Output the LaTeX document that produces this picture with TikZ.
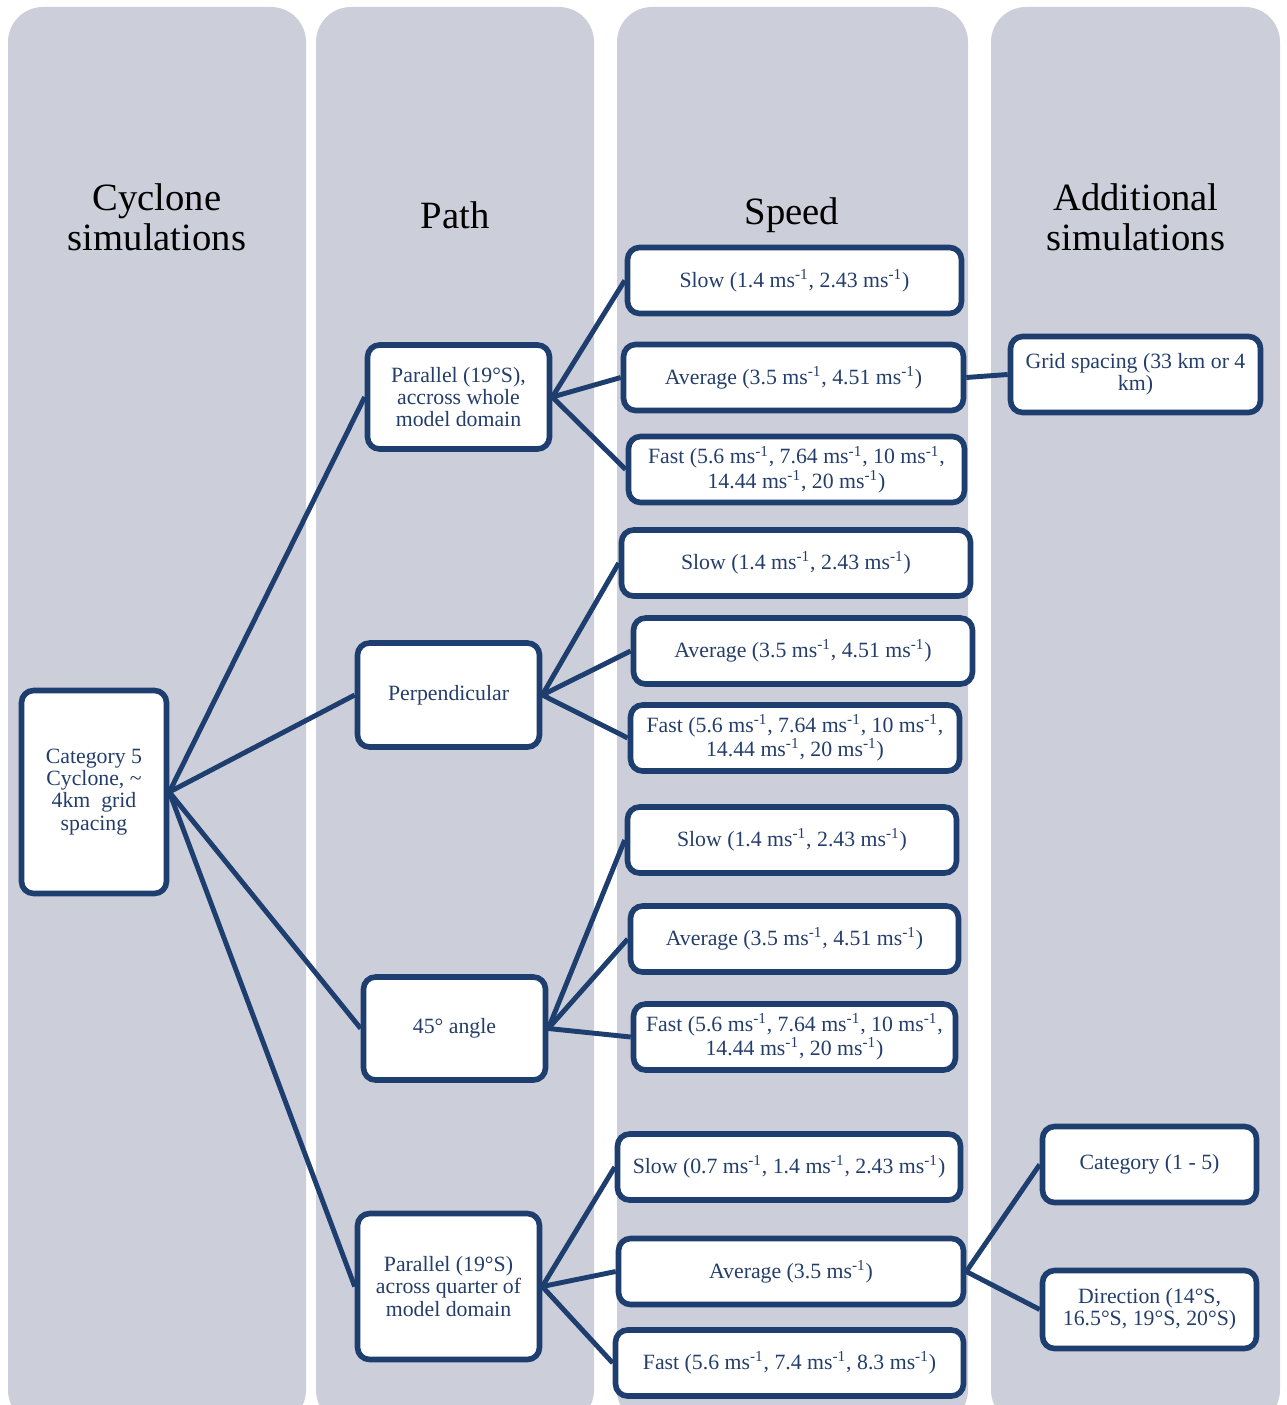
\documentclass[tikz,border=0pt]{standalone}
\usepackage{fontspec}
\setmainfont{Liberation Serif}
\usepackage{tikz}
\usetikzlibrary{positioning}
\definecolor{ColumnGray}{RGB}{204,207,217}
\definecolor{BoxNavy}{RGB}{29,62,110}
\definecolor{TextNavy}{RGB}{36,62,108}
\newcommand{\mspow}{ms\textsuperscript{-1}}

\begin{document}
\begin{tikzpicture}[
    x=0.02cm,
    y=-0.02cm,
    column/.style={
        fill=ColumnGray,
        draw=none,
        rounded corners=0.7cm
    },
    header/.style={
        align=center,
        text=black,
        font=\fontsize{22}{23}\selectfont
    },
    box/.style={
        draw=BoxNavy,
        line width=3.2pt,
        fill=white,
        rounded corners=0.24cm,
        align=center,
        inner sep=0pt,
        text=TextNavy,
        font=\fontsize{12.4}{12.6}\selectfont
    },
    pathbox/.style={
        box,
        minimum width=3.64cm,
        minimum height=2.08cm
    },
    speedbox/.style={
        box,
        minimum height=1.32cm
    },
    link/.style={
        draw=BoxNavy,
        line width=2.8pt
    }
]
\useasboundingbox (0,0) rectangle (1286,1405);
\clip (0,0) rectangle (1286,1405);

% =========================
% Background columns
% =========================
\path[column] (8,7) rectangle (306,1425);
\path[column] (316,7) rectangle (594,1425);
\path[column] (617,7) rectangle (968,1425);
\path[column] (991,7) rectangle (1280,1425);

\node[header] (hcyc)  at (157,217) {Cyclone\\simulations};
\node[header] (hpath) at (455,215) {Path};
\node[header] (hspd)  at (792,215) {Speed};
\node[header] (hadd)  at (1136,217) {Additional\\simulations};

% =========================
% Root and paths
% =========================
\node[box, minimum width=2.9cm, minimum height=4.06cm] (cat5) at (94,792)
    {Category 5\\Cyclone, \textasciitilde\\4km\ \ grid\\spacing};

\node[pathbox] (par1)  at (458.5,397)  {Parallel (19°S),\\accross whole\\model domain};
\node[pathbox] (perp)  at (448.5,695)  {Perpendicular};
\node[pathbox, minimum height=2.06cm] (ang45) at (454.5,1028.5) {45° angle};
\node[pathbox, minimum height=2.92cm] (par4)  at (448.5,1286.5) {Parallel (19°S)\\across quarter of\\model domain};

\draw[link] (cat5.east) -- (par1.west);
\draw[link] (cat5.east) -- (perp.west);
\draw[link] (cat5.east) -- (ang45.west);
\draw[link] (cat5.east) -- (par4.west);

% =========================
% Speeds
% =========================
\node[speedbox, minimum width=6.68cm] (s1slow) at (794.5,280.5) {Slow (1.4 \mspow, 2.43 \mspow)};
\node[speedbox, minimum width=6.80cm] (s1avg)  at (793.5,377.5) {Average (3.5 \mspow, 4.51 \mspow)};
\node[speedbox, minimum width=6.72cm] (s1fast) at (796.5,469.5) {Fast (5.6 \mspow, 7.64 \mspow, 10 \mspow,\\14.44 \mspow, 20 \mspow)};

\node[speedbox, minimum width=6.98cm] (s2slow) at (796,563) {Slow (1.4 \mspow, 2.43 \mspow)};
\node[speedbox, minimum width=6.78cm] (s2avg)  at (803,651) {Average (3.5 \mspow, 4.51 \mspow)};
\node[speedbox, minimum width=6.58cm] (s2fast) at (795,738) {Fast (5.6 \mspow, 7.64 \mspow, 10 \mspow,\\14.44 \mspow, 20 \mspow)};

\node[speedbox, minimum width=6.58cm] (s3slow) at (792,840)    {Slow (1.4 \mspow, 2.43 \mspow)};
\node[speedbox, minimum width=6.56cm] (s3avg)  at (794.5,939)  {Average (3.5 \mspow, 4.51 \mspow)};
\node[speedbox, minimum width=6.44cm] (s3fast) at (794.5,1037) {Fast (5.6 \mspow, 7.64 \mspow, 10 \mspow,\\14.44 \mspow, 20 \mspow)};

\node[speedbox, minimum width=6.86cm] (s4slow) at (789,1167)    {Slow (0.7 \mspow, 1.4 \mspow, 2.43 \mspow)};
\node[speedbox, minimum width=6.90cm] (s4avg)  at (791,1271.5)  {Average (3.5 \mspow)};
\node[speedbox, minimum width=6.96cm] (s4fast) at (789.5,1363)  {Fast (5.6 \mspow, 7.4 \mspow, 8.3 \mspow)};

\foreach \src/\dst in {par1/s1slow, par1/s1avg, par1/s1fast,
                       perp/s2slow, perp/s2avg, perp/s2fast,
                       ang45/s3slow, ang45/s3avg, ang45/s3fast,
                       par4/s4slow, par4/s4avg, par4/s4fast}
    \draw[link] (\src.east) -- (\dst.west);

% =========================
% Additional simulations
% =========================
\node[box, minimum width=5.0cm, minimum height=1.52cm] (grid)  at (1135.5,374.5) {Grid spacing (33 km or 4\\km)};
\node[box, minimum width=4.28cm, minimum height=1.52cm] (cat15) at (1149.5,1164.5) {Category (1 - 5)};
\node[box, minimum width=4.28cm, minimum height=1.56cm] (dir)   at (1149.5,1309.5) {Direction (14°S,\\16.5°S, 19°S, 20°S)};

\draw[link] (s1avg.east) -- (grid.west);
\draw[link] (s4avg.east) -- (cat15.west);
\draw[link] (s4avg.east) -- (dir.west);

\end{tikzpicture}
\end{document}
